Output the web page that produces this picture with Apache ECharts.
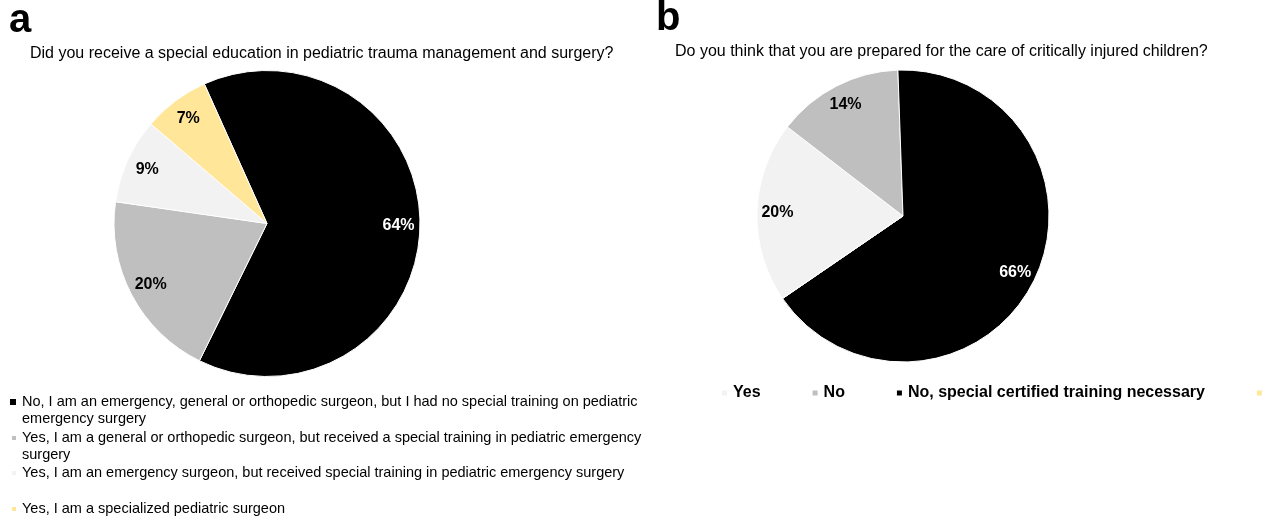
<!DOCTYPE html>
<html>
<head>
<meta charset="utf-8">
<script src="https://cdn.jsdelivr.net/npm/echarts@6/dist/echarts.min.js"></script>
<style>
  html, body { margin: 0; padding: 0; background: #fff; }
  #chart { width: 1276px; height: 519px; }
</style>
</head>
<body>
<div id="chart"></div>
<script>
// panel a
const namesA = [
  'No, I am an emergency, general or orthopedic surgeon, but I had no special training on pediatric emergency surgery',
  'Yes, I am a general or orthopedic surgeon, but received a special training in pediatric emergency surgery',
  'Yes, I am an emergency surgeon, but received special training in pediatric emergency surgery',
  'Yes, I am a specialized pediatric surgeon'
];
const valuesA = [64, 20, 9, 7];
// legend text as wrapped in the figure
const legendLinesA = [
  'No, I am an emergency, general or orthopedic surgeon, but I had no special training on pediatric\nemergency surgery',
  'Yes, I am a general or orthopedic surgeon, but received a special training in pediatric emergency\nsurgery',
  'Yes, I am an emergency surgeon, but received special training in pediatric emergency surgery',
  'Yes, I am a specialized pediatric surgeon'
];

// panel b
const namesB = ['Yes', 'No', 'No, special certified training necessary', ' '];
const valuesB = [20, 14, 66, 0];

const colorsA = ['#000000', '#bfbfbf', '#f2f2f2', '#ffe699'];
const colorsB = ['#f2f2f2', '#bfbfbf', '#000000', '#ffe699'];

const FONT = '"Liberation Sans", Arial, sans-serif';

const chart = echarts.init(document.getElementById('chart'), null, { renderer: 'canvas' });

function pieData(names, values, colors, withLabel) {
  return names.map((n, i) => ({
    name: n,
    value: values[i],
    itemStyle: { color: withLabel ? 'rgba(0,0,0,0)' : colors[i] },
    label: {
      show: withLabel && values[i] > 0,
      color: colors[i] === '#000000' ? '#ffffff' : '#000000'
    }
  }));
}

function pieSeries(names, values, colors, center, r, startAngle) {
  return [
    {
      type: 'pie',
      center: center,
      radius: [0, r],
      startAngle: startAngle,
      clockwise: true,
      silent: true,
      label: { show: false },
      labelLine: { show: false },
      itemStyle: { borderColor: '#ffffff', borderWidth: 1 },
      emphasis: { disabled: true },
      data: pieData(names, values, colors, false)
    },
    {
      // transparent ring, only used to put the percentages near the rim
      type: 'pie',
      center: center,
      radius: [r * 0.68, r],
      startAngle: startAngle,
      clockwise: true,
      silent: true,
      itemStyle: { borderWidth: 0 },
      label: {
        position: 'inside',
        formatter: '{c}%',
        fontFamily: FONT,
        fontWeight: 'bold',
        fontSize: 16
      },
      labelLine: { show: false },
      emphasis: { disabled: true },
      data: pieData(names, values, colors, true)
    }
  ];
}

// one legend per entry so the wrapped lines sit like in the figure
const legendTopsA = [376.5, 412.5, 464.5, 500.5];
const iconSizesA = [8, 6, 6, 6];

const legendsA = namesA.map((n, i) => {
  const twoLines = legendLinesA[i].indexOf('\n') >= 0;
  return {
    orient: 'vertical',
    left: 21 - 5 - iconSizesA[i],
    top: legendTopsA[i],
    padding: 0,
    itemWidth: iconSizesA[i],
    itemHeight: iconSizesA[i],
    itemGap: 0,
    icon: 'rect',
    selectedMode: false,
    data: [n],
    // leading empty line keeps the icon level with the first text line
    formatter: () => (twoLines ? '\n' : '') + legendLinesA[i],
    textStyle: {
      fontFamily: FONT,
      fontSize: 14.5,
      color: '#000',
      lineHeight: 17
    }
  };
});

const legendB = {
  orient: 'horizontal',
  left: 720,
  top: 384,
  width: 600,
  padding: 0,
  itemWidth: 7,
  itemHeight: 7,
  itemGap: 50,
  icon: 'rect',
  selectedMode: false,
  data: namesB,
  textStyle: { fontFamily: FONT, fontSize: 16, fontWeight: 'bold', color: '#000', lineHeight: 18 }
};

chart.setOption({
  backgroundColor: '#ffffff',
  animation: false,
  title: [
    { text: 'a', left: 4, top: -4, textStyle: { fontFamily: FONT, fontSize: 40, fontWeight: 'bold', color: '#000' } },
    { text: 'b', left: 651, top: -6, textStyle: { fontFamily: FONT, fontSize: 40, fontWeight: 'bold', color: '#000' } },
    { text: 'Did you receive a special education in pediatric trauma management and surgery?', left: 25, top: 41,
      textStyle: { fontFamily: FONT, fontSize: 16, fontWeight: 'normal', color: '#000' } },
    { text: 'Do you think that you are prepared for the care of critically injured children?', left: 670, top: 39,
      textStyle: { fontFamily: FONT, fontSize: 16, fontWeight: 'normal', color: '#000' } }
  ],
  legend: legendsA.concat([legendB]),
  series: pieSeries(namesA, valuesA, colorsA, [267, 223.5], 153, 114.2)
    .concat(pieSeries(namesB, valuesB, colorsB, [903, 216], 146, 214.4))
});
</script>
</body>
</html>
